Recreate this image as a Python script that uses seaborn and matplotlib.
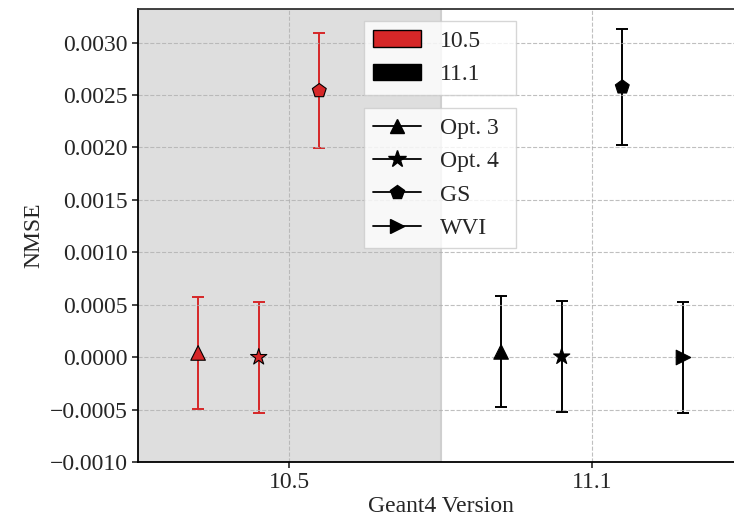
import numpy as np
import pandas as pd
import matplotlib
matplotlib.use("Agg")
import matplotlib.pyplot as plt
from matplotlib.patches import Patch
from matplotlib.lines import Line2D
import seaborn as sns

versions = ["10.5", "11.1"]
methods = ["Opt. 3", "Opt. 4", "GS", "WVI"]
nmse_105 = [0.00004, 0.0, 0.00254, np.nan]
err_105 = [0.00053, 0.00053, 0.00055, np.nan]
nmse_111 = [0.00005, 0.000005, 0.002575, 0.0]
err_111 = [0.00053, 0.00053, 0.000556, 0.00053]

colors = {"10.5": "#d62728", "11.1": "black"}
markers = {"Opt. 3": "^", "Opt. 4": "*", "GS": "p", "WVI": ">"}
offsets = {"Opt. 3": -0.3, "Opt. 4": -0.1, "GS": 0.1, "WVI": 0.3}

rows = []
for vi, (v, vals, errs) in enumerate(zip(versions, [nmse_105, nmse_111], [err_105, err_111])):
    for m, val, e in zip(methods, vals, errs):
        if not np.isnan(val):
            rows.append(dict(version=v, method=m, x=vi + offsets[m], nmse=val, err=e))
df = pd.DataFrame(rows)

sns.set_style("ticks")
plt.rcParams["font.family"] = ["Liberation Serif", "DejaVu Serif"]

FS = 17
fig = plt.figure(figsize=(7.34, 5.16), dpi=100)
ax = fig.add_axes([137.5 / 734, 54 / 516, 606 / 734, 453 / 516])

ax.axvspan(-0.5, 0.5, facecolor="#dedede", edgecolor="#cfcfcf", linewidth=1.5, zorder=0)

for _, r in df.iterrows():
    ax.errorbar(r["x"], r["nmse"], yerr=r["err"], fmt="none", ecolor=colors[r["version"]],
                elinewidth=1.4, capsize=4.5, capthick=1.4, zorder=2)

sizes = {"Opt. 3": 110, "Opt. 4": 150, "GS": 110, "WVI": 110}
for m in methods:
    sub = df[df["method"] == m]
    sns.scatterplot(data=sub, x="x", y="nmse", hue="version", palette=colors,
                    marker=markers[m], s=sizes[m], edgecolor="black",
                    linewidth=0.8, legend=False, ax=ax, zorder=3)

ax.set_xlim(-0.5, 1.5)
ax.set_ylim(-0.001, 0.00332)
ax.set_xticks([0, 1])
ax.set_xticklabels(versions)
yt = np.arange(-0.001, 0.00301, 0.0005)
ax.set_yticks(yt)
ax.set_yticklabels([f"{t:.4f}".replace("-", "\u2212") if abs(t) > 1e-12 else "0.0000" for t in yt])
ax.tick_params(labelsize=FS, length=4, width=1.2, direction="out", pad=3)
ax.set_xlabel("Geant4 Version", fontsize=FS, labelpad=2)
ax.set_ylabel("NMSE", fontsize=FS)
ax.grid(True, linestyle="--", color="#b0b0b0", linewidth=0.8, alpha=0.8)
ax.set_axisbelow(False)
for s in ax.spines.values():
    s.set_color("black")
    s.set_linewidth(1.3)
    s.set_zorder(5)
ax.spines["top"].set_color("#333333")

x0 = (364 - 137.5) / 606
w = 152 / 606
h1 = [Patch(facecolor=colors[v], edgecolor="black", label=v) for v in versions]
leg1 = ax.legend(handles=h1, loc="upper left", bbox_to_anchor=(x0, 0.0, w, (462 - 21) / 453),
                 mode="expand", fontsize=FS, fancybox=False, framealpha=0.8,
                 edgecolor="#cccccc", borderaxespad=0)
ax.add_artist(leg1)
h2 = [Line2D([0], [0], color="black", marker=markers[m], markersize=(13 if m == "Opt. 4" else 10.5),
             label=m, linewidth=1.3) for m in methods]
ax.legend(handles=h2, loc="upper left", bbox_to_anchor=(x0, 0.0, w, (462 - 108) / 453),
          mode="expand", fontsize=FS, fancybox=False, framealpha=0.8,
          edgecolor="#cccccc", borderaxespad=0)

fig.savefig("out.png", dpi=100)
